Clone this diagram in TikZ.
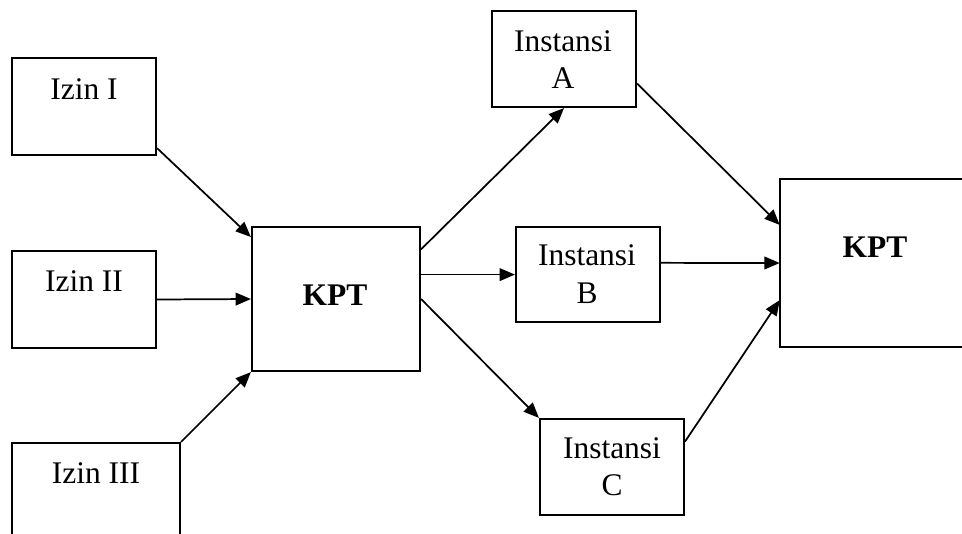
\documentclass[tikz,border=0pt]{standalone}
\usepackage{fontspec}
\setmainfont{Liberation Serif}
\usetikzlibrary{arrows.meta,calc}
\tikzset{
  box/.style={draw=black, line width=1.6pt, fill=white, rectangle, inner sep=0pt},
  openbox/.style={draw=none, fill=white, rectangle, inner sep=0pt},
  edge/.style={draw=black, line width=1.6pt},
  lbl/.style={anchor=base, inner sep=0pt, font=\fontsize{23.6}{28}\selectfont},
  blbl/.style={lbl, font=\fontsize{23.6}{28}\selectfont\bfseries},
  arr/.style={draw=black, line width=1.3pt, -{Triangle[length=11.5pt,width=9.5pt]}}
}
\begin{document}
\begin{tikzpicture}[x=0.75pt,y=-0.75pt]
\useasboundingbox (0,0) rectangle (962,533);
\fill[white] (0,0) rectangle (962,533);
\clip (0,0) rectangle (962,533);
% boxes
\node[box, minimum width=108pt, minimum height=72.75pt] (I1) at (84,106.5) {};
\node[box, minimum width=108pt, minimum height=72.75pt] (I2) at (84,299.5) {};
\node[box, minimum width=126pt, minimum height=72.75pt] (I3) at (96,491.5) {};
\node[box, minimum width=126pt, minimum height=108pt] (K1) at (336,299) {};
\node[box, minimum width=108pt, minimum height=72pt] (A) at (564,59) {};
\node[box, minimum width=108pt, minimum height=71.25pt] (B) at (588,274.5) {};
\node[box, minimum width=108pt, minimum height=72pt] (C) at (612,467) {};
\node[openbox, minimum width=165pt, minimum height=126pt] (K2) at (890,263) {};
\draw[edge] (K2.north east) -- (K2.north west) -- (K2.south west) -- (K2.south east);
% texts
\node[lbl] (tI1) at (84,99) {Izin I};
\node[lbl] (tI2) at (84,291) {Izin II};
\node[lbl] (tI3) at (96,483) {Izin III};
\node[blbl] (tK1) at (335,305) {KPT};
\node[lbl] (tA1) at (563,51) {Instansi};
\node[lbl] (tA2) at (563,88) {A};
\node[lbl] (tB1) at (587,265) {Instansi};
\node[lbl] (tB2) at (587,303) {B};
\node[lbl] (tC1) at (612,458) {Instansi};
\node[lbl] (tC2) at (612,495) {C};
\node[blbl] (tK2) at (875,257) {KPT};
% connectors
\draw[arr] ($(I1.north east)!0.92!(I1.south east)$) -- ($(K1.north west)!0.076!(K1.south west)$);
\draw[arr] (I2.east) -- (K1.west);
\draw[arr] (I3.north east) -- (K1.south west);
\draw[arr] ($(K1.north east)!0.16!(K1.south east)$) -- (A.south);
\draw[arr] ($(K1.north east)!0.333!(K1.south east)$) -- (B.west |- {$(K1.north east)!0.333!(K1.south east)$});
\draw[arr] (K1.east) -- (C.north west);
\draw[arr] ($(A.north east)!0.75!(A.south east)$) -- ($(K2.north west)!0.274!(K2.south west)$);
\draw[arr] ($(B.north east)!0.38!(B.south east)$) -- (K2.west);
\draw[arr] ($(C.north east)!0.24!(C.south east)$) -- ($(K2.north west)!0.72!(K2.south west)$);
\end{tikzpicture}
\end{document}
